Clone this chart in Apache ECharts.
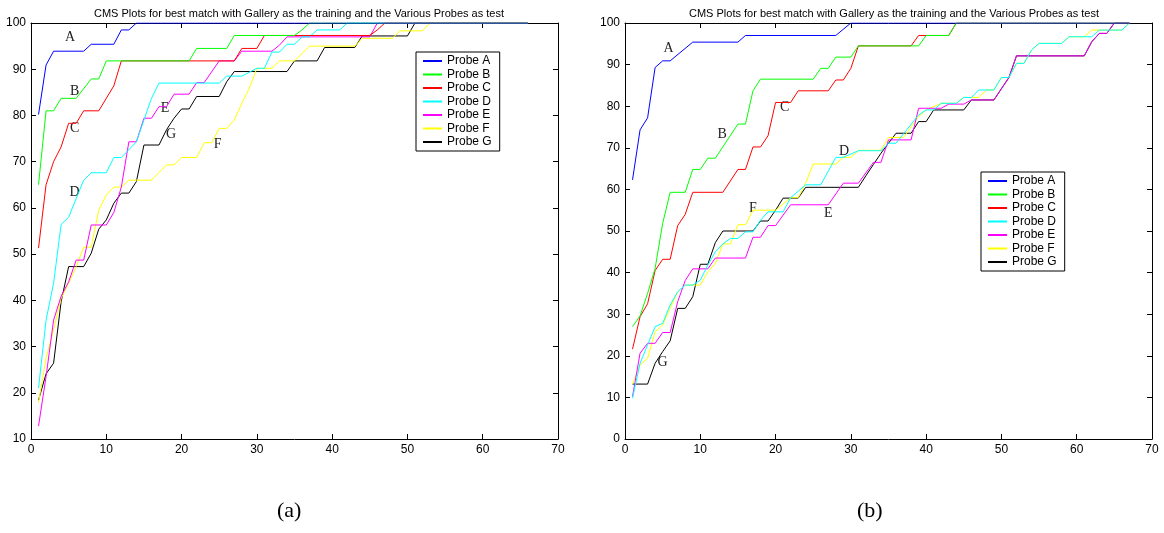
<!DOCTYPE html>
<html><head><meta charset="utf-8">
<script src="https://cdn.jsdelivr.net/npm/echarts@6/dist/echarts.min.js"></script>
<style>html,body{margin:0;padding:0;background:#fff}#c{width:1164px;height:533px}</style>
</head><body><div id="c"></div>
<script>
const titleText = 'CMS Plots for best match with Gallery as the training and the Various Probes as test';
const probeNames = ['Probe A','Probe B','Probe C','Probe D','Probe E','Probe F','Probe G'];
const probeLetters = ['A','B','C','D','E','F','G'];
const probeColors = ['#0000ff','#00ff00','#ff0000','#00ffff','#ff00ff','#ffff00','#000000'];
const panelLabels = ['(a)','(b)'];
const xTickValues = [0,10,20,30,40,50,60,70];
const yTicksA = [10,20,30,40,50,60,70,80,90,100];
const yTicksB = [0,10,20,30,40,50,60,70,80,90,100];

// Panel (a): [rank, cumulative match %] vertices
const a_A = [[1,80.2],[2,90.9],[3,93.9],[7,93.9],[8,95.4],[11,95.4],[12,98.5],[13,98.5],[14,100],[66,100]];
const a_B = [[1,65.0],[2,81.0],[3,81.0],[4,83.7],[6,83.7],[8,87.9],[9,87.9],[10,91.8],[21,91.8],[22,94.5],[26,94.5],[27,97.3],[35,97.3],[36,98.5],[37,100],[66,100]];
const a_C = [[1,51.3],[2,65.0],[3,70.0],[4,73.2],[5,78.3],[6,78.3],[7,81.0],[9,81.0],[11,86.4],[12,91.8],[27,91.8],[28,94.5],[30,94.5],[31,97.3],[45,97.3],[46,98.5],[47,100],[66,100]];
const a_D = [[1,21.0],[2,35.7],[3,43.7],[4,56.4],[5,58.0],[7,66.0],[8,67.6],[10,67.6],[11,70.9],[12,70.9],[14,74.3],[16,83.7],[17,87.0],[25,87.0],[26,88.5],[28,88.5],[30,90.2],[31,90.2],[32,93.7],[33,93.7],[34,95.4],[35,95.4],[36,97.0],[37,97.0],[38,98.5],[41,98.5],[42,100],[66,100]];
const a_E = [[1,12.8],[2,23.5],[3,35.7],[4,40.9],[5,44.0],[6,48.7],[7,48.7],[8,56.3],[10,56.3],[11,59.0],[12,64.5],[13,74.3],[14,74.3],[15,79.4],[16,79.4],[17,81.9],[18,81.9],[19,84.6],[21,84.6],[22,87.1],[23,87.1],[25,91.8],[27,91.8],[28,93.9],[32,93.9],[33,95.2],[34,97.0],[45,97.0],[46,100],[66,100]];
const a_F = [[1,17.9],[2,27.5],[3,33.6],[4,40.4],[5,43.7],[6,47.3],[7,51.5],[8,51.5],[9,59.5],[10,62.8],[11,64.5],[12,64.5],[13,66.0],[16,66.0],[18,69.3],[19,69.3],[20,70.9],[22,70.9],[23,74.1],[24,74.1],[25,77.2],[26,77.2],[27,79.0],[28,82.6],[29,85.9],[30,90.2],[32,90.2],[33,91.8],[35,91.8],[37,95.0],[43,95.0],[44,96.7],[48,96.7],[49,98.3],[52,98.3],[53,100],[66,100]];
const a_G = [[1,18.4],[2,24.1],[3,26.4],[4,39.7],[5,47.3],[7,47.3],[8,50.2],[9,55.4],[10,57.4],[11,61.0],[12,63.2],[13,63.2],[14,65.7],[15,73.6],[17,73.6],[18,76.9],[19,79.4],[20,81.4],[21,81.4],[22,84.1],[25,84.1],[26,87.3],[27,89.5],[34,89.5],[35,91.8],[38,91.8],[39,94.7],[43,94.7],[44,97.2],[50,97.2],[51,100],[66,100]];

// Panel (b)
const b_A = [[1,62.3],[2,74.3],[3,77.2],[4,89.3],[5,90.9],[6,90.9],[9,95.4],[15,95.4],[16,97.0],[28,97.0],[30,100],[67,100]];
const b_B = [[1,27.0],[2,29.6],[3,35.0],[4,41.0],[5,51.8],[6,59.3],[8,59.3],[9,64.8],[10,64.8],[11,67.5],[12,67.5],[15,75.7],[16,75.7],[17,83.7],[18,86.5],[25,86.5],[26,89.1],[27,89.1],[28,91.8],[30,91.8],[31,94.5],[39,94.5],[40,97.0],[43,97.0],[44,100],[67,100]];
const b_C = [[1,21.6],[2,29.4],[3,32.5],[4,40.5],[5,43.2],[6,43.2],[7,51.3],[8,54.0],[9,59.3],[13,59.3],[15,64.8],[16,64.8],[17,70.2],[18,70.2],[19,72.9],[20,80.9],[22,80.9],[23,83.7],[27,83.7],[28,86.3],[29,86.3],[30,89.1],[31,94.5],[38,94.5],[39,97.0],[43,97.0],[44,100],[67,100]];
const b_D = [[1,9.8],[2,18.2],[3,22.6],[4,27.0],[5,27.8],[6,32.2],[7,35.4],[8,37.0],[9,37.0],[10,38.2],[11,41.8],[12,45.0],[13,46.9],[14,48.2],[15,48.2],[16,49.8],[17,49.8],[18,52.6],[19,54.6],[21,54.6],[22,58.0],[24,61.1],[26,61.1],[28,67.7],[29,67.7],[31,69.3],[34,69.3],[35,71.1],[36,71.1],[39,77.9],[40,79.1],[41,79.1],[42,80.7],[44,80.7],[45,82.1],[46,82.1],[47,83.9],[49,83.9],[50,86.9],[51,86.9],[52,90.3],[53,90.3],[54,93.5],[55,95.1],[58,95.1],[59,96.7],[62,96.7],[63,98.3],[66,98.3],[67,100]];
const b_E = [[1,10.2],[2,20.6],[3,23.0],[4,23.0],[5,25.6],[6,25.6],[7,33.0],[8,38.1],[9,40.9],[11,40.9],[12,43.5],[16,43.5],[17,48.5],[18,48.5],[19,51.3],[20,51.3],[22,56.3],[27,56.3],[29,61.5],[31,61.5],[33,66.5],[34,66.5],[35,71.9],[38,71.9],[39,79.5],[42,79.5],[43,80.5],[45,80.5],[46,81.5],[49,81.5],[50,84.2],[51,86.9],[52,92.1],[61,92.1],[62,95.5],[63,97.5],[64,97.5],[65,100],[67,100]];
const b_F = [[1,13.2],[2,17.8],[3,19.4],[4,25.8],[5,27.4],[6,31.4],[7,35.4],[8,37.0],[10,37.0],[11,40.2],[12,42.2],[13,46.9],[14,46.9],[15,51.5],[16,51.5],[17,55.0],[20,55.0],[21,56.5],[22,58.0],[23,58.0],[24,61.5],[25,66.1],[28,66.1],[29,67.7],[30,67.7],[31,69.4],[34,69.4],[35,72.5],[37,72.5],[39,77.5],[40,79.1],[42,80.7],[44,80.7],[45,82.1],[47,82.1],[48,83.9],[49,83.9],[50,86.9],[51,86.9],[52,90.3],[53,90.3],[54,93.5],[55,95.1],[58,95.1],[59,96.7],[61,96.7],[62,98.3],[66,98.3],[67,100]];
const b_G = [[1,13.2],[3,13.2],[4,18.2],[5,21.0],[6,23.6],[7,31.4],[8,31.4],[9,34.2],[10,42.0],[11,42.0],[12,47.2],[13,50.0],[17,50.0],[18,52.4],[19,52.4],[20,55.0],[21,57.9],[23,57.9],[24,60.5],[31,60.5],[32,63.3],[33,66.0],[34,68.7],[36,73.5],[38,73.5],[39,76.3],[40,76.3],[41,79.1],[45,79.1],[46,81.5],[49,81.5],[50,84.2],[51,86.9],[52,92.1],[61,92.1],[62,95.5],[63,97.5],[64,97.5],[65,100],[67,100]];

// curve annotation positions in data units
const labelPosA = [[5.2,96.8],[5.8,85.3],[5.8,77.3],[5.8,63.4],[17.8,81.6],[24.8,73.8],[18.6,76.0]];
const labelPosB = [[5.8,93.8],[12.9,73.3],[21.2,79.8],[29.1,69.2],[27.0,54.3],[17.0,55.5],[5.0,18.5]];

const panelA = [a_A,a_B,a_C,a_D,a_E,a_F,a_G];
const panelB = [b_A,b_B,b_C,b_D,b_E,b_F,b_G];

const chart = echarts.init(document.getElementById('c'), null, {renderer:'canvas'});
const FONT = 'Liberation Sans, Arial, sans-serif';
const SERIF = 'Liberation Serif, Times New Roman, serif';

const grids = [
  {left:31, top:23, width:527, height:416},
  {left:625, top:23, width:527, height:416}
];
function xAx(g, pos){
  return {type:'value', gridIndex:g, position:pos, min:0, max:70, interval:10,
    axisLine:{show:true, onZero:false, lineStyle:{color:'#000', width:1}},
    axisTick:{show:true, inside:true, length:5, lineStyle:{color:'#000'}},
    axisLabel:{show:pos==='bottom', color:'#000', fontSize:12, fontFamily:FONT, margin:5},
    splitLine:{show:false}};
}
function yAx(g, pos, mn){
  return {type:'value', gridIndex:g, position:pos, min:mn, max:100, interval:10,
    axisLine:{show:true, onZero:false, lineStyle:{color:'#000', width:1}},
    axisTick:{show:true, inside:true, length:5, lineStyle:{color:'#000'}},
    axisLabel:{show:pos==='left', color:'#000', fontSize:12, fontFamily:FONT, margin:5},
    splitLine:{show:false}};
}
const series = [];
[panelA, panelB].forEach((panel, p) => {
  const lp = p === 0 ? labelPosA : labelPosB;
  panel.forEach((data, i) => {
    series.push({
      type:'line', name:probeNames[i], xAxisIndex:p*2, yAxisIndex:p*2,
      data:data, symbol:'none', showSymbol:false, animation:false,
      lineStyle:{color:probeColors[i], width:1}, itemStyle:{color:probeColors[i]},
      z: 10 - i,
      markPoint:{silent:true, symbol:'circle', symbolSize:0, animation:false,
        label:{show:true, position:'inside', formatter:'{b}', color:'#222', fontSize:14, fontFamily:SERIF},
        data:[{name:probeLetters[i], coord:lp[i]}]}
    });
  });
});
const legendBase = {orient:'vertical', data:probeNames, icon:'rect', itemWidth:19, itemHeight:2,
  itemGap:1.5, padding:[3,8,3,7], borderColor:'#000', borderWidth:1, backgroundColor:'#fff',
  textStyle:{fontSize:12, fontFamily:FONT, color:'#000', lineHeight:12}, selectedMode:false};
chart.setOption({
  animation:false,
  backgroundColor:'#fff',
  title:[
    {text:titleText, left:294, top:3, textAlign:'center', textStyle:{fontSize:11, fontWeight:'normal', fontFamily:FONT, color:'#000'}},
    {text:titleText, left:889, top:3, textAlign:'center', textStyle:{fontSize:11, fontWeight:'normal', fontFamily:FONT, color:'#000'}}
  ],
  grid:grids,
  xAxis:[xAx(0,'bottom'), xAx(0,'top'), xAx(1,'bottom'), xAx(1,'top')],
  yAxis:[yAx(0,'left',10), yAx(0,'right',10), yAx(1,'left',0), yAx(1,'right',0)],
  legend:[Object.assign({left:416, top:52}, legendBase), Object.assign({left:981, top:172}, legendBase)],
  graphic:[
    {type:'text', left:277, top:500, style:{text:panelLabels[0], font:'22px '+SERIF, fill:'#000'}},
    {type:'text', left:857, top:500, style:{text:panelLabels[1], font:'22px '+SERIF, fill:'#000'}}
  ],
  series:series
});
</script></body></html>
